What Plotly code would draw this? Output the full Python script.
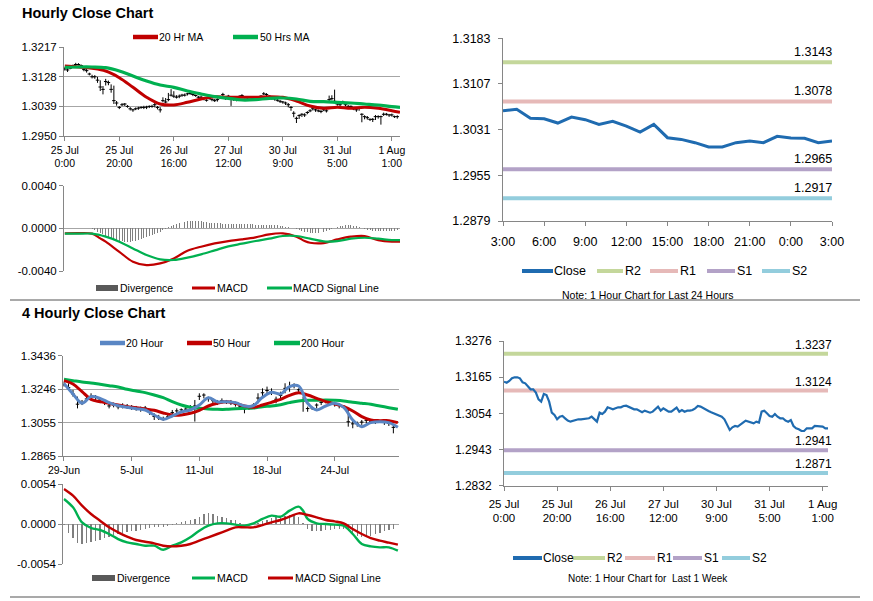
import plotly.graph_objects as go

# ---------------- data ----------------
hour_tick_vals = [0, 20, 40, 60, 80, 100, 120]
hour_tick_text = ["25 Jul<br>0:00", "25 Jul<br>20:00", "26 Jul<br>16:00", "27 Jul<br>12:00",
                  "30 Jul<br>9:00", "31 Jul<br>5:00", "1 Aug<br>1:00"]

hourly_close = [
    1.31512, 1.31481, 1.31533, 1.31615, 1.31645, 1.31645, 1.31615, 1.31492, 1.31461, 1.31359,
    1.31277, 1.31277, 1.31175, 1.30970, 1.30899, 1.31134, 1.31103, 1.30899, 1.30561, 1.30490,
    1.30357, 1.30438, 1.30459, 1.30388, 1.30316, 1.30285, 1.30316, 1.30336, 1.30357, 1.30357,
    1.30367, 1.30388, 1.30388, 1.30438, 1.30357, 1.30285, 1.30561, 1.30520, 1.30592, 1.30725,
    1.30694, 1.30664, 1.30694, 1.30725, 1.30725, 1.30766, 1.30776, 1.30746, 1.30715, 1.30664,
    1.30664, 1.30622, 1.30572, 1.30622, 1.30592, 1.30561, 1.30592, 1.30664, 1.30746, 1.30622,
    1.30694, 1.30643, 1.30592, 1.30592, 1.30664, 1.30715, 1.30592, 1.30643, 1.30592, 1.30622,
    1.30622, 1.30643, 1.30694, 1.30766, 1.30746, 1.30694, 1.30643, 1.30612, 1.30572, 1.30541,
    1.30520, 1.30490, 1.30438, 1.30357, 1.30183, 1.30030, 1.30112, 1.30152, 1.30132, 1.30204,
    1.30255, 1.30316, 1.30285, 1.30255, 1.30234, 1.30285, 1.30255, 1.30592, 1.30622, 1.30541,
    1.30459, 1.30438, 1.30520, 1.30438, 1.30388, 1.30388, 1.30316, 1.30285, 1.30336, 1.30152,
    1.30081, 1.30050, 1.29999, 1.29999, 1.30081, 1.30081, 1.30081, 1.30152, 1.30152, 1.30132,
    1.30132, 1.30081, 1.30081]
hourly_up_pips = [
    5, 6, 4, 3, 5, 4, 3, 6, 5, 4,
    6, 5, 10, 20, 10, 8, 6, 15, 45, 6,
    4, 5, 3, 4, 5, 3, 4, 4, 3, 5,
    4, 3, 5, 6, 4, 8, 10, 12, 20, 18,
    15, 6, 5, 4, 5, 3, 4, 5, 3, 4,
    5, 4, 3, 6, 4, 5, 4, 3, 5, 4,
    4, 5, 3, 4, 6, 4, 3, 5, 4, 3,
    5, 4, 3, 5, 4, 3, 4, 3, 5, 4,
    3, 4, 5, 4, 6, 5, 4, 3, 5, 4,
    5, 4, 3, 4, 5, 6, 5, 12, 10, 35,
    6, 5, 4, 5, 4, 3, 5, 4, 4, 3,
    4, 5, 3, 4, 5, 4, 3, 5, 4, 3,
    4, 3, 4]
hourly_dn_pips = [
    5, 6, 3, 4, 5, 3, 4, 5, 6, 4,
    5, 6, 8, 12, 15, 12, 8, 10, 10, 8,
    5, 4, 6, 4, 5, 6, 4, 5, 4, 5,
    6, 5, 4, 8, 6, 8, 5, 4, 5, 4,
    5, 4, 6, 5, 4, 5, 4, 5, 4, 6,
    4, 5, 4, 3, 5, 4, 6, 4, 5, 4,
    5, 24, 4, 5, 4, 6, 3, 5, 4, 5,
    4, 5, 3, 4, 5, 4, 6, 5, 4, 5,
    5, 6, 8, 10, 12, 14, 10, 8, 6, 5,
    4, 5, 6, 4, 5, 4, 5, 6, 5, 4,
    5, 6, 4, 5, 6, 5, 4, 6, 8, 24,
    8, 6, 5, 8, 10, 6, 24, 5, 4, 6,
    5, 4, 6]

ma_hours = [0, 5, 10, 15, 20, 25, 30, 35, 40, 45, 50, 55, 60, 65, 70, 75, 80, 85, 90, 95,
            100, 105, 110, 115, 120, 123]
ma20_hourly = [1.3160, 1.3157, 1.3153, 1.3145, 1.3125, 1.3096, 1.3066, 1.3046, 1.3043, 1.3051,
               1.3061, 1.3068, 1.3066, 1.3066, 1.3066, 1.3068, 1.3066, 1.3055, 1.3040, 1.3033,
               1.3036, 1.3033, 1.3036, 1.3033, 1.3026, 1.3021]
ma50_hourly = [1.3156, 1.3157, 1.3157, 1.3155, 1.3145, 1.3130, 1.3115, 1.3103, 1.3096, 1.3085,
               1.3076, 1.3068, 1.3063, 1.3058, 1.3059, 1.3063, 1.3064, 1.3061, 1.3054, 1.3053,
               1.3051, 1.3049, 1.3046, 1.3043, 1.3038, 1.3036]

macd_h_hours = [0, 5, 10, 13, 15, 20, 25, 30, 35, 40, 45, 50, 55, 60, 65, 70, 75, 80, 85, 88,
                90, 95, 100, 105, 110, 115, 120, 123]
macd_hourly = [-0.00047, -0.00044, -0.00050, -0.00094, -0.00125, -0.00220, -0.00313, -0.00345,
               -0.00329, -0.00282, -0.00210, -0.00172, -0.00141, -0.00119, -0.00104, -0.00085,
               -0.00056, -0.00047, -0.00078, -0.00119, -0.00135, -0.00138, -0.00104, -0.00078,
               -0.00072, -0.00110, -0.00125, -0.00125]
signal_hourly = [-0.00050, -0.00050, -0.00050, -0.00078, -0.00125, -0.00188, -0.00250, -0.00291,
                 -0.00297, -0.00275, -0.00244, -0.00207, -0.00169, -0.00144, -0.00119, -0.00097,
                 -0.00072, -0.00072, -0.00097, -0.00122, -0.00119, -0.00097, -0.00088, -0.00097,
                 -0.00110, -0.00110]
div_hourly = [
    0.00005, 0.00005, 0.00005, 0.00005, 0.00005, 0.00005, 0.00005, 0.00005, 0.00005, 0.00005,
    -0.0001, -0.0002, -0.0003, -0.0004, -0.00055, -0.0007, -0.0008, -0.0009, -0.0010, -0.0011,
    -0.00118, -0.00122, -0.00125, -0.00126, -0.00125, -0.00122, -0.00118, -0.0011, -0.0010, -0.00094,
    -0.00085, -0.00075, -0.00063, -0.0005, -0.0004, -0.0003, -0.0002, -0.0001, 0.0001, 0.0002,
    0.0003, 0.0004, 0.0005, 0.00058, 0.00062, 0.00065, 0.00066, 0.00066, 0.00066, 0.00066,
    0.00065, 0.0006, 0.00056, 0.00053, 0.0005, 0.00048, 0.00047, 0.00046, 0.00044, 0.00042,
    0.0004, 0.0004, 0.0004, 0.00039, 0.00039, 0.00038, 0.00038, 0.00038, 0.00037, 0.00037,
    0.00036, 0.00036, 0.00035, 0.00035, 0.00034, 0.00034, 0.00033, 0.0003, 0.00027, 0.00023,
    0.0002, 0.00015, 0.0001, 0.00005, 0.0, -0.0001, -0.00018, -0.00024, -0.0003, -0.00038,
    -0.00044, -0.00047, -0.00047, -0.00045, -0.0004, -0.00034, -0.00028, -0.0002, -0.0001, 0.0,
    0.0001, 0.00018, 0.00024, 0.00028, 0.0003, 0.00028, 0.00025, 0.0002, 0.0001, 0.0,
    -0.0001, -0.00016, -0.0002, -0.00023, -0.00025, -0.00026, -0.00026, -0.00025, -0.00025, -0.00024,
    -0.00023, -0.00022, -0.0002]

day_tick_vals = [0, 3, 6, 9, 12, 15, 18, 21, 24]
day_tick_text = ["3:00", "6:00", "9:00", "12:00", "15:00", "18:00", "21:00", "0:00", "3:00"]
close_24h = [1.30626, 1.30648, 1.30498, 1.30492, 1.30420, 1.30520, 1.30476, 1.30398, 1.30448,
             1.30370, 1.30270, 1.30398, 1.30176, 1.30148, 1.30093, 1.30021, 1.30021, 1.30093,
             1.30121, 1.30093, 1.30198, 1.30170, 1.30165, 1.30093, 1.30121]

level_names = ["R2", "R1", "S1", "S2"]
levels_24h = [1.3143, 1.3078, 1.2965, 1.2917]
levels_week = [1.3237, 1.3124, 1.2941, 1.2871]

h4_tick_vals = [0, 30, 60, 90, 120]
h4_tick_text = ["29-Jun", "5-Jul", "11-Jul", "18-Jul", "24-Jul"]
h4_close = [
    1.3270, 1.3255, 1.3218, 1.3160, 1.3165, 1.3190, 1.3205, 1.3198, 1.3185, 1.3170,
    1.3150, 1.3155, 1.3145, 1.3152, 1.3148, 1.3140, 1.3135, 1.3130, 1.3138, 1.3115,
    1.3090, 1.3082, 1.3072, 1.3088, 1.3112, 1.3122, 1.3128, 1.3132, 1.3140, 1.3150,
    1.3205, 1.3212, 1.3195, 1.3180, 1.3170, 1.3180, 1.3172, 1.3168, 1.3160, 1.3145,
    1.3132, 1.3145, 1.3155, 1.3195, 1.3225, 1.3238, 1.3230, 1.3188, 1.3210, 1.3250,
    1.3260, 1.3268, 1.3242, 1.3180, 1.3135, 1.3138, 1.3155, 1.3170, 1.3175, 1.3170,
    1.3160, 1.3152, 1.3148, 1.3060, 1.3048, 1.3048, 1.3058, 1.3068, 1.3062, 1.3060,
    1.3064, 1.3058, 1.3050, 1.3028]
h4_high = [
    1.3288, 1.3279, 1.3241, 1.3203, 1.3184, 1.3203, 1.3222, 1.3212, 1.3193, 1.3184,
    1.3165, 1.3169, 1.3161, 1.3165, 1.3161, 1.3155, 1.3150, 1.3146, 1.3150, 1.3127,
    1.3108, 1.3099, 1.3089, 1.3099, 1.3127, 1.3136, 1.3136, 1.3146, 1.3155, 1.3184,
    1.3222, 1.3222, 1.3203, 1.3193, 1.3184, 1.3193, 1.3184, 1.3184, 1.3174, 1.3155,
    1.3146, 1.3155, 1.3165, 1.3222, 1.3250, 1.3260, 1.3250, 1.3203, 1.3231, 1.3279,
    1.3288, 1.3279, 1.3250, 1.3203, 1.3146, 1.3146, 1.3165, 1.3184, 1.3184, 1.3184,
    1.3174, 1.3165, 1.3155, 1.3136, 1.3070, 1.3061, 1.3070, 1.3080, 1.3070, 1.3070,
    1.3070, 1.3070, 1.3061, 1.3042]
h4_low = [
    1.3260, 1.3245, 1.3203, 1.3136, 1.3155, 1.3174, 1.3184, 1.3184, 1.3165, 1.3155,
    1.3136, 1.3142, 1.3131, 1.3136, 1.3134, 1.3127, 1.3123, 1.3117, 1.3123, 1.3099,
    1.3070, 1.3070, 1.3066, 1.3080, 1.3099, 1.3108, 1.3117, 1.3117, 1.3127, 1.3061,
    1.3184, 1.3193, 1.3174, 1.3165, 1.3155, 1.3165, 1.3161, 1.3155, 1.3146, 1.3127,
    1.3108, 1.3127, 1.3136, 1.3165, 1.3203, 1.3222, 1.3212, 1.3165, 1.3184, 1.3222,
    1.3231, 1.3250, 1.3222, 1.3117, 1.3117, 1.3127, 1.3136, 1.3155, 1.3165, 1.3155,
    1.3146, 1.3136, 1.3136, 1.3032, 1.3023, 1.3032, 1.3042, 1.3051, 1.3051, 1.3047,
    1.3055, 1.3042, 1.3036, 1.2994]

h4_ma_n = [0, 4, 8, 12, 16, 20, 24, 28, 32, 36, 40, 44, 48, 52, 56, 60, 64, 68, 72, 76,
           80, 84, 88, 92, 96, 100, 104, 108, 112, 116, 120, 124, 128, 132, 136, 140, 144, 148]
h4_ma20 = [1.32787, 1.32180, 1.31649, 1.32028, 1.31933, 1.31687, 1.31516, 1.31421, 1.31345, 1.31269,
           1.30985, 1.30738, 1.30928, 1.31156, 1.31269, 1.31554, 1.31971, 1.31743, 1.31743, 1.31687,
           1.31497, 1.31516, 1.31990, 1.32275, 1.32180, 1.32597, 1.32635, 1.31649, 1.31269, 1.31497,
           1.31649, 1.31421, 1.30700, 1.30321, 1.30549, 1.30606, 1.30549, 1.30283]
h4_ma50 = [1.32939, 1.32749, 1.32313, 1.31876, 1.31744, 1.31649, 1.31554, 1.31459, 1.31402, 1.31326,
           1.31250, 1.31099, 1.30985, 1.30985, 1.31080, 1.31250, 1.31497, 1.31649, 1.31744, 1.31649,
           1.31497, 1.31421, 1.31554, 1.31706, 1.31876, 1.32104, 1.32256, 1.32123, 1.31933, 1.31744,
           1.31611, 1.31459, 1.31212, 1.30890, 1.30700, 1.30662, 1.30662, 1.30549]
h4_ma200 = [1.33015, 1.32939, 1.32863, 1.32806, 1.32730, 1.32654, 1.32578, 1.32446, 1.32351, 1.32256,
            1.32123, 1.31971, 1.31744, 1.31554, 1.31421, 1.31364, 1.31326, 1.31307, 1.31307, 1.31345,
            1.31364, 1.31383, 1.31459, 1.31497, 1.31573, 1.31687, 1.31782, 1.31820, 1.31820, 1.31839,
            1.31820, 1.31782, 1.31706, 1.31649, 1.31592, 1.31497, 1.31402, 1.31307]

h4_macd_n = [0, 4, 8, 12, 16, 20, 24, 28, 32, 36, 40, 44, 48, 52, 56, 60, 64, 68, 72, 76,
             80, 84, 88, 92, 96, 100, 104, 106, 108, 112, 116, 120, 124, 128, 132, 136, 140, 144, 148]
h4_macd = [0.00338, 0.00225, 0.00022, -0.00054, -0.00081, -0.00135, -0.00203, -0.00248, -0.00270,
           -0.00293, -0.00293, -0.00347, -0.00293, -0.00248, -0.00180, -0.00090, -0.00023, 0.00009,
           0.00009, -0.00009, -0.00023, 0.00009, 0.00068, 0.00113, 0.00099, 0.00180, 0.00234,
           0.00180, 0.00068, 0.00009, 0.0, -0.00009, -0.00023, -0.00135, -0.00270, -0.00302,
           -0.00315, -0.00315, -0.00360]
h4_signal = [0.00472, 0.00382, 0.00248, 0.00135, 0.00045, -0.00045, -0.00113, -0.00171, -0.00216,
             -0.00239, -0.00261, -0.00293, -0.00302, -0.00293, -0.00270, -0.00225, -0.00180, -0.00135,
             -0.00090, -0.00045, -0.00045, -0.00045, -0.00014, 0.00022, 0.00054, 0.00099, 0.00144,
             0.00122, 0.00090, 0.00054, 0.00036, 0.00009, -0.00068, -0.00135, -0.00190, -0.00225,
             -0.00252, -0.00279]
h4_div = [
    -0.0002, -0.0012, -0.0019, -0.0026, -0.0027, -0.0026, -0.0024, -0.0023, -0.0021, -0.0019,
    -0.0017, -0.0015, -0.0013, -0.0012, -0.0011, -0.0010, -0.00088, -0.0008, -0.0007, -0.0006,
    -0.00045, -0.0004, -0.00036, -0.00025, -0.0001, 0.0001, 0.0003, 0.0004, 0.00055, 0.0007,
    0.0010, 0.0013, 0.00144, 0.00135, 0.0011, 0.0009, 0.0008, 0.0006, 0.0005, 0.0002,
    0.0, -0.0001, 0.0, 0.0002, 0.0004, 0.0006, 0.0008, 0.0009, 0.0010, 0.0011,
    0.0012, 0.0012, 0.0010, 0.0002, -0.0007, -0.0009, -0.0009, -0.0009, -0.00085, -0.0008,
    -0.0007, -0.00068, -0.0007, -0.0010, -0.0013, -0.0016, -0.0018, -0.0018, -0.0016, -0.0014,
    -0.0012, -0.0010, -0.0008, -0.0007]

# ---------------- styling ----------------
W, H = 873, 601
FONT = "Liberation Sans, Arial, sans-serif"
AX = "#868686"
GRID = "#A6A6A6"
RED = "#C00000"
GREEN = "#00B050"
BLUE_MA = "#5A86C4"
BLUE_CLOSE = "#1F6BB0"
DIV = "#7F7F7F"
LEVEL_COLORS = ["#C4D79B", "#E6B9B8", "#B3A2C7", "#93CDDD"]


def px(x):
    return x / W


def py(y):
    return 1 - y / H


hours = list(range(len(hourly_close)))
h4_n = list(range(0, 2 * len(h4_close), 2))
day_hours = list(range(len(close_24h)))

fig = go.Figure()

# Panel 1: hourly bars + MAs
fig.add_trace(go.Scatter(
    x=hours, y=hourly_close, mode="markers", xaxis="x", yaxis="y",
    marker=dict(symbol="line-ew", size=2.5, color="black", line=dict(width=1, color="black")),
    error_y=dict(type="data", symmetric=False,
                 array=[p * 0.0001 for p in hourly_up_pips],
                 arrayminus=[p * 0.0001 for p in hourly_dn_pips],
                 width=0, thickness=1, color="black")))
fig.add_trace(go.Scatter(x=ma_hours, y=ma20_hourly, mode="lines", xaxis="x", yaxis="y",
                         line=dict(color=RED, width=3, shape="spline")))
fig.add_trace(go.Scatter(x=ma_hours, y=ma50_hourly, mode="lines", xaxis="x", yaxis="y",
                         line=dict(color=GREEN, width=3.2, shape="spline")))

# Panel 2: hourly MACD
fig.add_trace(go.Bar(x=hours, y=div_hourly, xaxis="x2", yaxis="y2", width=0.35,
                     marker=dict(color=DIV, line=dict(width=0))))
fig.add_trace(go.Scatter(x=macd_h_hours, y=macd_hourly, mode="lines", xaxis="x2", yaxis="y2",
                         line=dict(color=RED, width=2.2, shape="spline")))
fig.add_trace(go.Scatter(x=ma_hours, y=signal_hourly, mode="lines", xaxis="x2", yaxis="y2",
                         line=dict(color=GREEN, width=2.2, shape="spline")))

# Panel 3: last 24 hours with levels
for lvl, col in zip(levels_24h, LEVEL_COLORS):
    fig.add_trace(go.Scatter(x=[day_hours[0], day_hours[-1]], y=[lvl, lvl], mode="lines",
                             xaxis="x3", yaxis="y3", line=dict(color=col, width=4)))
fig.add_trace(go.Scatter(x=day_hours, y=close_24h, mode="lines", xaxis="x3", yaxis="y3",
                         line=dict(color=BLUE_CLOSE, width=3)))

# Panel 4: 4 hourly bars + MAs
fig.add_trace(go.Scatter(
    x=h4_n, y=h4_close, mode="markers", xaxis="x4", yaxis="y4",
    marker=dict(symbol="line-ew", size=2.5, color="black", line=dict(width=1, color="black")),
    error_y=dict(type="data", symmetric=False,
                 array=[hi - c for hi, c in zip(h4_high, h4_close)],
                 arrayminus=[c - lo for lo, c in zip(h4_low, h4_close)],
                 width=0, thickness=1, color="black")))
fig.add_trace(go.Scatter(x=h4_ma_n, y=h4_ma200, mode="lines", xaxis="x4", yaxis="y4",
                         line=dict(color=GREEN, width=3, shape="spline")))
fig.add_trace(go.Scatter(x=h4_ma_n, y=h4_ma50, mode="lines", xaxis="x4", yaxis="y4",
                         line=dict(color=RED, width=3, shape="spline")))
fig.add_trace(go.Scatter(x=h4_ma_n, y=h4_ma20, mode="lines", xaxis="x4", yaxis="y4",
                         line=dict(color=BLUE_MA, width=3, shape="spline")))

# Panel 5: 4 hourly MACD
fig.add_trace(go.Bar(x=h4_n, y=h4_div, xaxis="x5", yaxis="y5", width=0.6,
                     marker=dict(color=DIV, line=dict(width=0))))
fig.add_trace(go.Scatter(x=h4_macd_n, y=h4_macd, mode="lines", xaxis="x5", yaxis="y5",
                         line=dict(color=GREEN, width=2.4, shape="spline")))
fig.add_trace(go.Scatter(x=h4_ma_n, y=h4_signal, mode="lines", xaxis="x5", yaxis="y5",
                         line=dict(color=RED, width=2.4, shape="spline")))

# Panel 6: last week hourly with levels
for lvl, col in zip(levels_week, LEVEL_COLORS):
    fig.add_trace(go.Scatter(x=[hours[0], hours[-1]], y=[lvl, lvl], mode="lines",
                             xaxis="x6", yaxis="y6", line=dict(color=col, width=4)))
fig.add_trace(go.Scatter(x=hours, y=hourly_close, mode="lines", xaxis="x6", yaxis="y6",
                         line=dict(color=BLUE_CLOSE, width=2.2)))


def xax(dom, anchor, rng, tv=None, tt=None, size=10.5, show=True, standoff=None):
    d = dict(domain=[px(dom[0]), px(dom[1])], anchor=anchor, range=rng, automargin=False,
             showgrid=False, zeroline=False, showline=show, linecolor=AX, linewidth=1,
             fixedrange=True)
    if tv is not None:
        d.update(tickmode="array", tickvals=tv, ticktext=tt, ticks="outside", ticklen=4,
                 tickcolor=AX, tickfont=dict(size=size, color="black", family=FONT))
        if standoff is not None:
            d["ticklabelstandoff"] = standoff
    else:
        d.update(showticklabels=False, ticks="")
    return d


def yax(dom, anchor, rng, tv, tt, grid, size=11.5, standoff=None):
    d = dict(domain=[py(dom[1]), py(dom[0])], anchor=anchor, range=rng, automargin=False,
             tickmode="array", tickvals=tv, ticktext=tt,
             showgrid=grid, gridcolor=GRID, gridwidth=1, zeroline=False,
             showline=True, linecolor=AX, linewidth=1, ticks="outside", ticklen=4,
             tickcolor=AX, tickfont=dict(size=size, color="black", family=FONT),
             fixedrange=True)
    if standoff is not None:
        d["ticklabelstandoff"] = standoff
    return d


p1_ticks = [1.2950, 1.3039, 1.3128, 1.3217]
p2_ticks = [-0.0040, 0.0, 0.0040]
p3_ticks = [1.2879, 1.2955, 1.3031, 1.3107, 1.3183]
p4_ticks = [1.2865, 1.3055, 1.3246, 1.3436]
p5_ticks = [-0.0054, 0.0, 0.0054]
p6_ticks = [1.2832, 1.2943, 1.3054, 1.3165, 1.3276]

fig.update_layout(
    xaxis=xax((64, 400), "y", [-0.3, 123], hour_tick_vals, hour_tick_text, 10.5),
    yaxis=yax((47, 136), "x", [p1_ticks[0], p1_ticks[-1]], p1_ticks,
              ["%.4f" % v for v in p1_ticks], True),
    xaxis2=xax((64, 400), "y2", [-0.3, 123], show=False),
    yaxis2=yax((185.7, 271), "x2", [p2_ticks[0], p2_ticks[-1]], p2_ticks,
               ["%.4f" % v for v in p2_ticks], True),
    xaxis3=xax((503, 832), "y3", [0, 24], day_tick_vals, day_tick_text, 12.5, standoff=5),
    yaxis3=yax((38.3, 221), "x3", [p3_ticks[0], p3_ticks[-1]], p3_ticks,
               ["%.4f" % v for v in p3_ticks], False, 12.5, standoff=5),
    xaxis4=xax((63.3, 399), "y4", [-0.3, 148.5], h4_tick_vals, h4_tick_text, 10.5),
    yaxis4=yax((355.7, 456), "x4", [p4_ticks[0], p4_ticks[-1]], p4_ticks,
               ["%.4f" % v for v in p4_ticks], True),
    xaxis5=xax((63.3, 399), "y5", [-0.3, 148.5], show=False),
    yaxis5=yax((484, 564), "x5", [p5_ticks[0], p5_ticks[-1]], p5_ticks,
               ["%.4f" % v for v in p5_ticks], True),
    xaxis6=xax((504, 828), "y6", [0, 122], hour_tick_vals, hour_tick_text, 11.5, standoff=3),
    yaxis6=yax((341, 485.7), "x6", [p6_ticks[0], p6_ticks[-1]], p6_ticks,
               ["%.4f" % v for v in p6_ticks], False, 12, standoff=5),
)

shapes = []
annotations = []


def txt(x, y, s, size, xanchor="left", bold=False, color="black"):
    annotations.append(dict(
        x=px(x), xref="paper", y=py(y), yref="paper",
        text="<b>%s</b>" % s if bold else s, showarrow=False,
        xanchor=xanchor, yanchor="middle", borderpad=0,
        font=dict(size=size, family=FONT, color=color)))


def leg_line(x0, x1, y, color, w=4):
    shapes.append(dict(type="line", xref="paper", yref="paper", x0=px(x0), x1=px(x1),
                       y0=py(y), y1=py(y), line=dict(color=color, width=w)))


def leg_rect(x0, x1, y, color, h=6):
    shapes.append(dict(type="rect", xref="paper", yref="paper", x0=px(x0), x1=px(x1),
                       y0=py(y + h / 2), y1=py(y - h / 2), fillcolor=color,
                       line=dict(width=0)))


# titles
txt(21, 13, "Hourly Close Chart", 14.5, bold=True)
txt(21, 313, "4 Hourly Close Chart", 14.5, bold=True)

# separators
for yy in (300, 597):
    shapes.append(dict(type="line", xref="paper", yref="paper", x0=px(10), x1=px(860),
                       y0=py(yy), y1=py(yy), line=dict(color="#8C8C8C", width=1.5)))

# panel 1 legend
leg_line(133, 158, 37, RED, 4.5)
txt(158, 37, "20 Hr MA", 10.5)
leg_line(233, 258, 37, GREEN, 4.5)
txt(259, 37, "50 Hrs MA", 10.5)

# panel 2 legend
leg_rect(96, 118, 288, "#595959", 6)
txt(119, 288, "Divergence", 10.5)
leg_line(192, 215, 288, RED, 3)
txt(216, 288, "MACD", 10.5)
leg_line(267, 292, 288, GREEN, 3)
txt(292, 288, "MACD Signal Line", 10.5)

# panel 3 legend + note + level labels
leg_line(522, 553, 271, BLUE_CLOSE, 4)
txt(553, 271, "Close", 12.5)
leg_x3 = [(597, 623), (650, 678), (707, 735), (762, 790)]
for (a, b), name, col in zip(leg_x3, level_names, LEVEL_COLORS):
    leg_line(a, b, 271, col, 4)
    txt(b + 1, 271, name, 12.5)
txt(648, 295, "Note: 1 Hour Chart for Last 24 Hours", 10.5, xanchor="center")
for lvl in levels_24h:
    annotations.append(dict(x=px(833), xref="paper", y=lvl, yref="y3", text="%.4f" % lvl,
                            showarrow=False, xanchor="right", yanchor="bottom", yshift=2,
                            borderpad=0, font=dict(size=12.5, family=FONT, color="black")))

# panel 4 legend
leg_line(100, 125, 343, BLUE_MA, 4.5)
txt(125, 343, "20 Hour", 10.5)
leg_line(187, 212, 343, RED, 4.5)
txt(212, 343, "50 Hour", 10.5)
leg_line(274, 300, 343, GREEN, 4.5)
txt(300, 343, "200 Hour", 10.5)

# panel 5 legend
leg_rect(92, 115, 578, "#595959", 6)
txt(116, 578, "Divergence", 10.5)
leg_line(192, 215, 578, GREEN, 3)
txt(216, 578, "MACD", 10.5)
leg_line(268, 293, 578, RED, 3)
txt(294, 578, "MACD Signal Line", 10.5)

# panel 6 legend + note + level labels
leg_line(513, 542, 558, BLUE_CLOSE, 4)
txt(542, 558, "Close", 12)
leg_x6 = [(573, 605), (625, 655), (673, 702), (722, 750)]
for (a, b), name, col in zip(leg_x6, level_names, LEVEL_COLORS):
    leg_line(a, b, 558, col, 4)
    txt(b + 1, 558, name, 12)
txt(648, 578, "Note: 1 Hour Chart for  Last 1 Week", 10, xanchor="center")
for lvl in levels_week:
    annotations.append(dict(x=px(833), xref="paper", y=lvl, yref="y6", text="%.4f" % lvl,
                            showarrow=False, xanchor="right", yanchor="bottom", yshift=1,
                            borderpad=0, font=dict(size=12, family=FONT, color="black")))

fig.update_layout(
    width=W, height=H, margin=dict(l=0, r=0, t=0, b=0, pad=0, autoexpand=False),
    paper_bgcolor="white", plot_bgcolor="white",
    showlegend=False, bargap=0, hovermode=False,
    font=dict(family=FONT, color="black"),
    shapes=shapes, annotations=annotations,
)

fig.write_html("out.html",
               config={"displayModeBar": False, "staticPlot": True},
               post_script="document.body.style.margin='0px';"
                           "document.body.style.padding='0px';"
                           "document.body.style.overflow='hidden';")
